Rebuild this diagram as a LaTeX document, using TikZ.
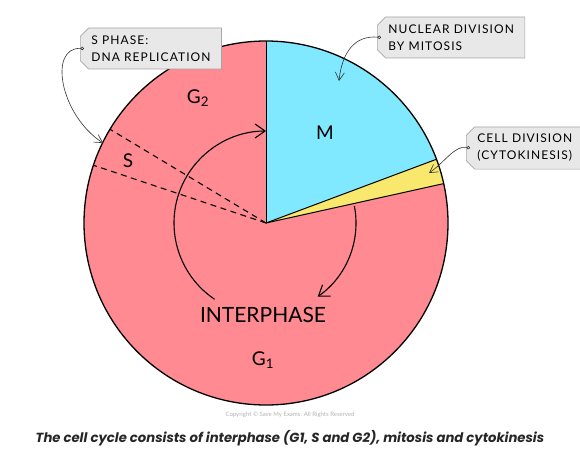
\documentclass[tikz,border=0pt]{standalone}
\usepackage{fontspec}
\setmainfont{Lato}
\newfontfamily\capfont{Poppins}
\newfontfamily\tagfont{Lato}[LetterSpace=9]
\usetikzlibrary{positioning,arrows.meta,shapes.misc,calc}
\definecolor{interpink}{HTML}{FF8A92}
\definecolor{mitocyan}{HTML}{80E9FF}
\definecolor{cytoyellow}{HTML}{F9E86E}

\begin{document}
\begin{tikzpicture}[x=1pt, y=1pt,
    tagbox/.style={chamfered rectangle, chamfered rectangle corners={north west,south west},
        chamfered rectangle xsep=5pt, draw=gray!70, fill=gray!18, line width=0.7pt,
        align=left, inner xsep=6pt, inner ysep=4pt, minimum height=41pt,
        font=\tagfont\fontsize{12}{17}\selectfont},
    pointer/.style={line width=0.6pt, black!80, {Circle[open,length=3.5pt]}-{Straight Barb[length=8pt,width=9pt]}},
    cyclearrow/.style={line width=1.1pt, -{Straight Barb[length=10pt,width=14pt]}},
    phase/.style={font=\fontsize{19}{19}\selectfont}]
    \useasboundingbox (0,0) rectangle (580,467);

    % Cell cycle disc
    \coordinate (c) at (266,244);
    \fill[interpink] (c) circle (182);
    \fill[mitocyan] (c) -- ++(20.5:182) arc[start angle=20.5, end angle=90, radius=182] -- cycle;
    \fill[cytoyellow] (c) -- ++(12.5:182) arc[start angle=12.5, end angle=20.5, radius=182] -- cycle;
    \draw[line width=1pt] (c) -- ++(90:182);
    \draw[line width=1pt] (c) -- ++(20.5:182);
    \draw[line width=1pt] (c) -- ++(12.5:182);
    \draw[line width=1.3pt] (c) circle (182);

    % S phase boundaries
    \draw[dashed, dash pattern=on 6pt off 4.5pt, line width=1.1pt] (c) -- ++(149:182);
    \draw[dashed, dash pattern=on 6pt off 4.5pt, line width=1.1pt] (c) -- ++(161.5:182);

    % Cycle arrows
    \draw[cyclearrow] (c) ++(236:92) arc[start angle=236, end angle=90, radius=92];
    \draw[cyclearrow] (c) ++(11:90) arc[start angle=11, end angle=-55, radius=90];

    % Phase labels
    \node[phase] (g2) at (198,369) {G\textsubscript{2}};
    \node[phase] (m) at (325,334) {M};
    \node[phase] (s) at (128,306) {S};
    \node[font=\fontsize{21}{21}\selectfont] (inter) at (263,152) {INTERPHASE};
    \node[phase] (g1) at (263,107) {G\textsubscript{1}};

    % Callouts
    \node[tagbox, anchor=west] (sphase) at (80,418.5) {S PHASE:\\DNA REPLICATION};
    \node[tagbox, anchor=west] (mitosis) at (377,429.5) {NUCLEAR DIVISION\\BY MITOSIS};
    \node[tagbox, anchor=west] (cytok) at (466,319) {CELL DIVISION\\(CYTOKINESIS)};

    \coordinate (sdot) at ($(sphase.west)+(4,0)$);
    \coordinate (mdot) at ($(mitosis.west)+(4,0)$);
    \coordinate (cdot) at ($(cytok.west)+(4,0)$);
    \coordinate (sarr) at (103,324);
    \coordinate (marr) at (339,386);
    \coordinate (carr) at (429,294);

    \draw[pointer] (sdot) .. controls (48,420) and (60,352) .. (sarr);
    \draw[pointer] (mdot) .. controls (355,432) and (342,415) .. (marr);
    \draw[pointer] (cdot) .. controls (455,322) and (445,305) .. (carr);

    % Footer
    \node[font=\fontsize{6}{7}\selectfont, text=gray!60] (copy) at (290,52) {Copyright \textcopyright\ Save My Exams. All Rights Reserved};
    \node[font=\capfont\bfseries\itshape\fontsize{13.2}{15}\selectfont, text=black!85] (caption) at (290,29) {The cell cycle consists of interphase (G1, S and G2), mitosis and cytokinesis};
\end{tikzpicture}
\end{document}
